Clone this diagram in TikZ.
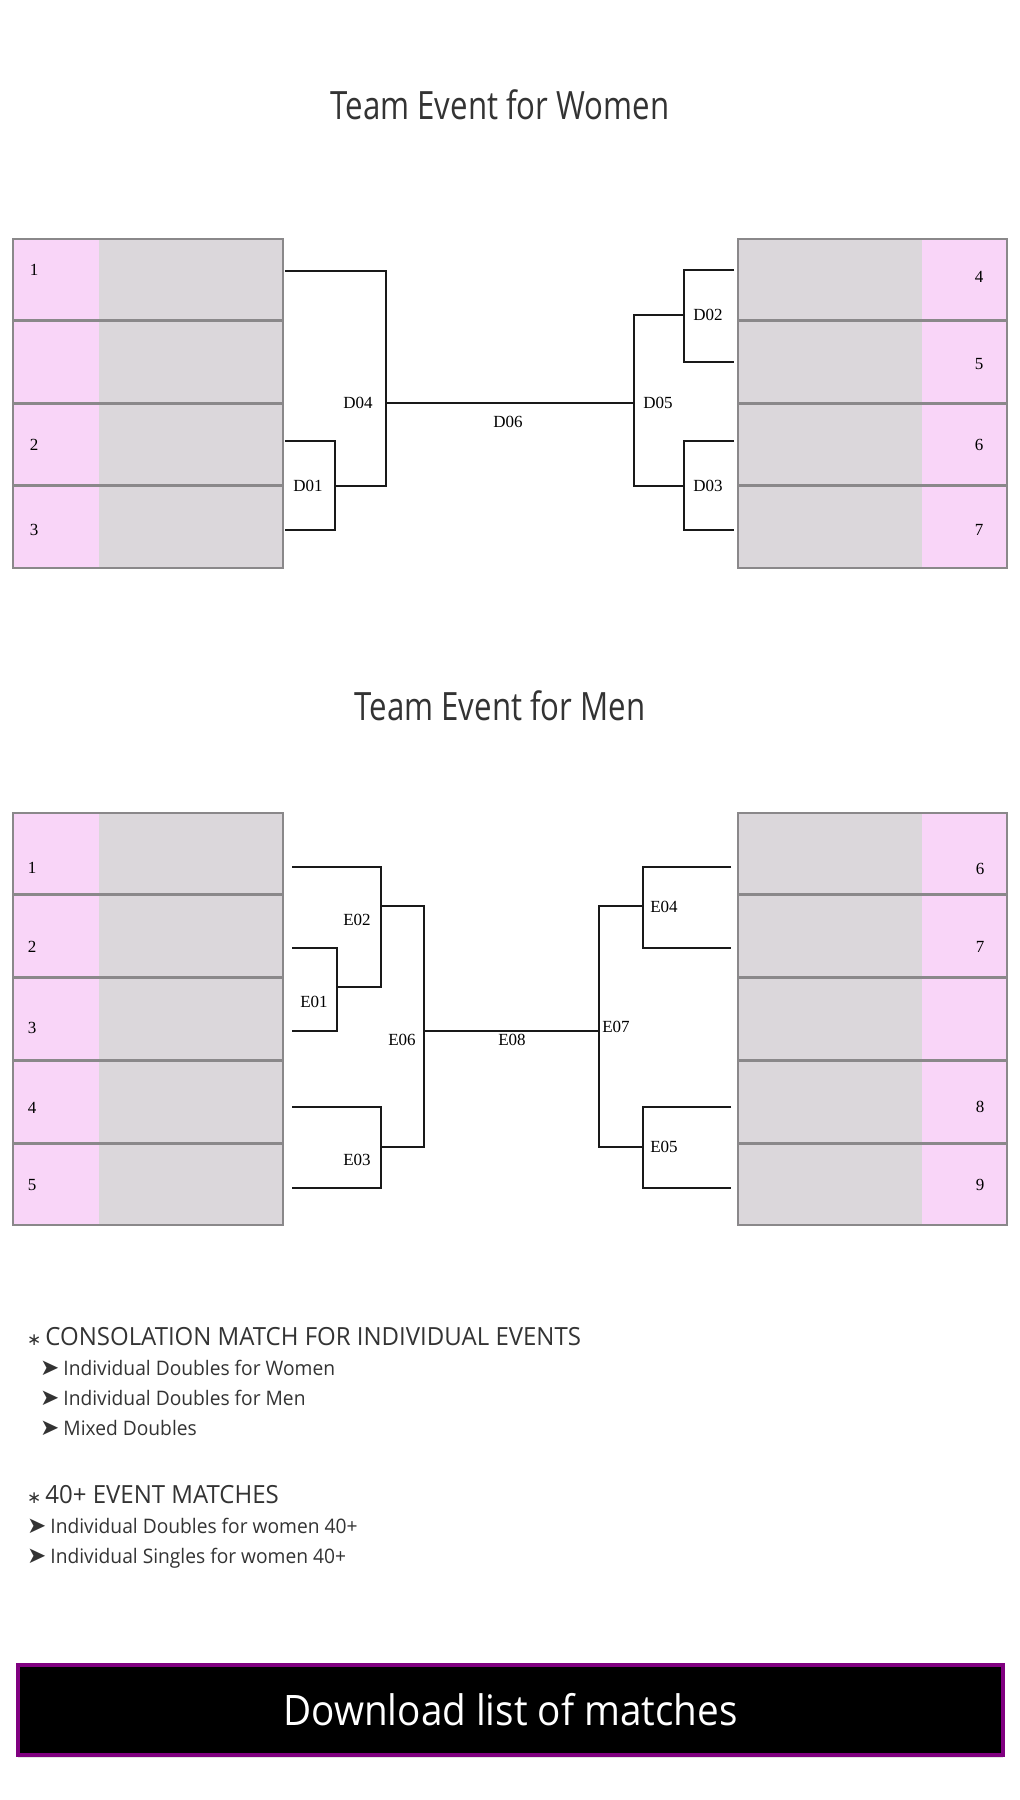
\documentclass[tikz,border=0pt]{standalone}
\usepackage{fontspec}
\setmainfont{Liberation Serif}
\newfontfamily\headfont{Open Sans}[FakeStretch=0.8]
\newfontfamily\notefont{Open Sans}[FakeStretch=0.96]
\newfontfamily\btnfont{Open Sans}[FakeStretch=0.92]
\newfontfamily\symfont{DejaVu Sans}
\usetikzlibrary{shadows}
\definecolor{pink100} {HTML}{F9D5F8}
\definecolor{grey200} {HTML}{DBD7DB}
\definecolor{grey500} {HTML}{8A888A}
\definecolor{ink800}  {HTML}{333333}
\definecolor{purple700}{HTML}{800080}
\tikzset{
  seedl/.style ={draw=grey500, line width=2pt, fill=grey200, inner sep=0pt,
                 minimum width=270pt, minimum height=81.5pt,
                 path picture={\fill[pink100]
                   (path picture bounding box.north west) rectangle
                   ([xshift=86pt]path picture bounding box.south west);}},
  seedr/.style ={draw=grey500, line width=2pt, fill=grey200, inner sep=0pt,
                 minimum width=269pt, minimum height=81.5pt,
                 path picture={\fill[pink100]
                   ([xshift=-85pt]path picture bounding box.north east) rectangle
                   (path picture bounding box.south east);}},
  seednum/.style={font=\fontsize{17}{17}\selectfont, inner sep=0pt},
  mtag/.style   ={font=\fontsize{17}{17}\selectfont, inner sep=0pt},
  br/.style     ={draw=black!90, line width=1.6pt},
  headline/.style={font=\headfont\fontsize{39}{39}\selectfont, text=ink800,
                 inner sep=0pt, anchor=base},
  notehead/.style={font=\notefont\fontsize{25}{25}\selectfont, text=ink800,
                 inner sep=0pt, anchor=base west},
  noteitem/.style={font=\notefont\fontsize{20}{20}\selectfont, text=ink800,
                 inner sep=0pt, anchor=base west},
  dlbtn/.style  ={fill=black, draw=purple700, line width=4pt, text=white,
                 minimum width=985pt, minimum height=90pt, inner sep=0pt,
                 font=\btnfont\fontsize{42}{42}\selectfont,
                 drop shadow={opacity=0.2, shadow xshift=0pt, shadow yshift=-3pt}}
}
\newcommand{\itemarrow}{{\symfont\fontsize{23}{23}\selectfont ➤}\hspace{4pt}}
\newcommand{\headstar}{{\symfont\fontsize{17}{17}\selectfont ∗}\hspace{4pt}}

\begin{document}
\begin{tikzpicture}[x=1pt,y=-1pt]
\fill[white] (0,0) rectangle (1020,1800);
\useasboundingbox (0,0) rectangle (1020,1800);

\node[headline] (wtitle) at (500,119) {Team Event for Women};

\node[seedl] (wl1) at (148,279.25) {};
\node[seedl] (wl2) at (148,361.75) {};
\node[seedl] (wl3) at (148,444.25) {};
\node[seedl] (wl4) at (148,526.75) {};
\node[seedr] (wr1) at (872.5,279.25) {};
\node[seedr] (wr2) at (872.5,361.75) {};
\node[seedr] (wr3) at (872.5,444.25) {};
\node[seedr] (wr4) at (872.5,526.75) {};
\node[seednum] (wn1) at (34,270) {1};
\node[seednum] (wn2) at (34,445) {2};
\node[seednum] (wn3) at (34,530) {3};
\node[seednum] (wn4) at (979,277) {4};
\node[seednum] (wn5) at (979,364) {5};
\node[seednum] (wn6) at (979,445) {6};
\node[seednum] (wn7) at (979,530) {7};

\coordinate (wa1) at (285,271);
\coordinate (wa2) at (285,441);
\coordinate (wa3) at (285,530);
\coordinate (wb4) at (734,270);
\coordinate (wb5) at (734,362);
\coordinate (wb6) at (734,441);
\coordinate (wb7) at (734,530);
\coordinate (d01) at (335,486);
\coordinate (d04) at (386,403);
\coordinate (d02) at (684,315);
\coordinate (d03) at (684,486);
\coordinate (d05) at (634,403);
\draw[br] (wa2) -| (d01) |- (wa3);
\draw[br] (wa1) -| (d04) |- (d01);
\draw[br] (d04) -- (d05);
\draw[br] (wb4) -| (d02) |- (wb5);
\draw[br] (wb6) -| (d03) |- (wb7);
\draw[br] (d02) -| (d05) |- (d03);
\node[mtag] (d01t) at (308,486) {D01};
\node[mtag] (d04t) at (358,403) {D04};
\node[mtag] (d06t) at (508,422) {D06};
\node[mtag] (d05t) at (658,403) {D05};
\node[mtag] (d02t) at (708,315) {D02};
\node[mtag] (d03t) at (708,486) {D03};

\node[headline] (mtitle) at (500,720) {Team Event for Men};

\node[seedl] (ml1) at (148,853.4) {};
\node[seedl] (ml2) at (148,936.2) {};
\node[seedl] (ml3) at (148,1019) {};
\node[seedl] (ml4) at (148,1101.8) {};
\node[seedl] (ml5) at (148,1184.6) {};
\node[seedr] (mr1) at (872.5,853.4) {};
\node[seedr] (mr2) at (872.5,936.2) {};
\node[seedr] (mr3) at (872.5,1019) {};
\node[seedr] (mr4) at (872.5,1101.8) {};
\node[seedr] (mr5) at (872.5,1184.6) {};
\node[seednum] (mn1) at (32,868) {1};
\node[seednum] (mn2) at (32,947) {2};
\node[seednum] (mn3) at (32,1028) {3};
\node[seednum] (mn4) at (32,1108) {4};
\node[seednum] (mn5) at (32,1185) {5};
\node[seednum] (mn6) at (980,869) {6};
\node[seednum] (mn7) at (980,947) {7};
\node[seednum] (mn8) at (980,1107) {8};
\node[seednum] (mn9) at (980,1185) {9};

\coordinate (ma1) at (292,867);
\coordinate (ma2) at (292,948);
\coordinate (ma3) at (292,1031);
\coordinate (ma4) at (292,1107);
\coordinate (ma5) at (292,1188);
\coordinate (mb6) at (731,867);
\coordinate (mb7) at (731,948);
\coordinate (mb8) at (731,1107);
\coordinate (mb9) at (731,1188);
\coordinate (e01) at (337,987);
\coordinate (e02) at (381,906);
\coordinate (e03) at (381,1147);
\coordinate (e06) at (424,1031);
\coordinate (e04) at (643,906);
\coordinate (e05) at (643,1147);
\coordinate (e07) at (599,1031);
\draw[br] (ma2) -| (e01) |- (ma3);
\draw[br] (ma1) -| (e02) |- (e01);
\draw[br] (ma4) -| (e03) |- (ma5);
\draw[br] (e02) -| (e06) |- (e03);
\draw[br] (e06) -- (e07);
\draw[br] (mb6) -| (e04) |- (mb7);
\draw[br] (mb8) -| (e05) |- (mb9);
\draw[br] (e04) -| (e07) |- (e05);
\node[mtag] (e01t) at (314,1002) {E01};
\node[mtag] (e02t) at (357,920) {E02};
\node[mtag] (e03t) at (357,1160) {E03};
\node[mtag] (e06t) at (402,1040) {E06};
\node[mtag] (e08t) at (512,1040) {E08};
\node[mtag] (e07t) at (616,1027) {E07};
\node[mtag] (e04t) at (664,907) {E04};
\node[mtag] (e05t) at (664,1147) {E05};

\node[notehead] (cons) at (27,1345) {\headstar CONSOLATION MATCH FOR INDIVIDUAL EVENTS};
\node[noteitem] (cons1) at (40,1375) {\itemarrow Individual Doubles for Women};
\node[noteitem] (cons2) at (40,1405) {\itemarrow Individual Doubles for Men};
\node[noteitem] (cons3) at (40,1435) {\itemarrow Mixed Doubles};
\node[notehead] (forty) at (27,1503) {\headstar 40+ EVENT MATCHES};
\node[noteitem] (forty1) at (27,1533) {\itemarrow Individual Doubles for women 40+};
\node[noteitem] (forty2) at (27,1563) {\itemarrow Individual Singles for women 40+};

\node[dlbtn] (dl) at (510.5,1710) {Download list of matches};
\end{tikzpicture}
\end{document}
